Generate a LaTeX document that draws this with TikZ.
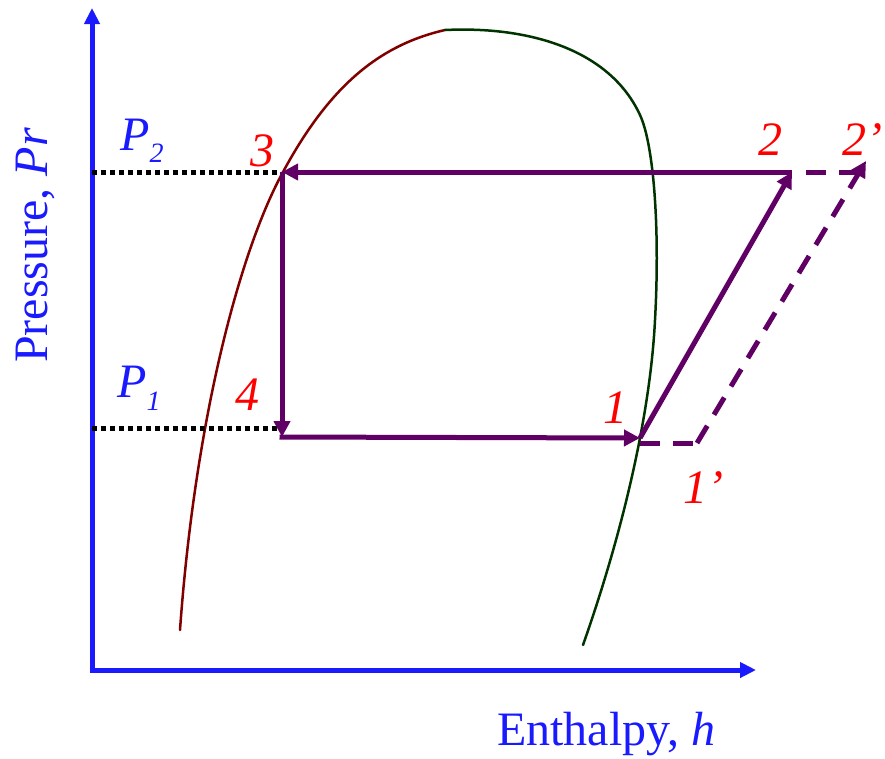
\documentclass[tikz,border=0pt]{standalone}
\usepackage{fontspec}
\setmainfont{Liberation Serif}
\usetikzlibrary{arrows.meta,positioning,calc}
\definecolor{axisblue} {HTML}{1A1AFF}
\definecolor{cycle}    {HTML}{600064}
\definecolor{liquid}   {HTML}{800000}
\definecolor{vapour}   {HTML}{003300}
\definecolor{statered} {HTML}{FF0000}
\newcommand{\bigfont}{\fontsize{48}{54}\selectfont}
\newcommand{\subfont}{\fontsize{28}{30}\selectfont}
\tikzset{
  axisline/.style={axisblue, line width=5pt, -{Triangle[length=16pt,width=15pt]}},
  cycleline/.style={cycle, line width=5pt, -{Triangle[length=16pt,width=16pt]}},
  realline/.style={cycleline, dash pattern=on 20pt off 13pt},
  levelline/.style={black, line width=5pt, dash pattern=on 5pt off 4pt},
  statelabel/.style={anchor=base west, font=\bigfont\itshape, text=statered, inner sep=0pt},
  presslabel/.style={anchor=base west, font=\bigfont\itshape, text=axisblue, inner sep=0pt}
}
\begin{document}
\begin{tikzpicture}[x=1pt,y=-1pt]
  \useasboundingbox (0,0) rectangle (885,758);
  % axes
  \coordinate (origin) at (92,670);
  \coordinate (ytop)   at (92,8);
  \coordinate (xend)   at (756,670);
  \draw[axisline] (origin) -- (ytop);
  \draw[axisline] ($(origin)+(-2.5,0)$) -- (xend);
  \node[anchor=base west, font=\bigfont, text=axisblue, inner sep=0pt] (hlabel) at (497,745)
       {Enthalpy, \textit{h}};
  \node[anchor=base west, rotate=90, font=\bigfont, text=axisblue, inner sep=0pt] (plabel) at (47,363)
       {Pressure, \textit{Pr}};
  % saturation dome
  \draw[liquid, line width=2.5pt, line cap=round]
    (180,630) .. controls (195,420) and (240,250) .. (283,172)
              .. controls (330,85) and (380,45) .. (445,30);
  \draw[vapour, line width=2.5pt, line cap=round]
    (445,30) .. controls (530,26) and (610,50) .. (640,115)
             .. controls (654,145) and (660,230) .. (655,320)
             .. controls (650,420) and (620,540) .. (583,645);
  % state points
  \coordinate (s1)  at (640,438);
  \coordinate (s1p) at (697,443);
  \coordinate (s2)  at (792,172);
  \coordinate (s2p) at (866,161);
  \coordinate (s3)  at (282,172);
  \coordinate (s4)  at (282,437);
  \coordinate (p2end) at (92,172);
  \coordinate (p1end) at (92,428);
  % pressure levels
  \draw[levelline] (p2end) -- ($(s3)+(-4,0)$);
  \draw[levelline] (p1end) -- ($(s4)+(-4,-9)$);
  % actual compression
  \draw[cycle, line width=5pt, dash pattern=on 20pt off 13pt] ($(s1)+(0,5)$) -- (s1p);
  \draw[cycle, line width=5pt, dash pattern=on 20pt off 13pt] ($(s2)+(14,0)$) -- ($(s2p)+(-6,11)$);
  \draw[realline] (s1p) -- (s2p);
  % ideal cycle
  \draw[cycleline] (s2) -- (s3);
  \draw[cycleline] (s3) -- (s4);
  \draw[cycleline] ($(s4)+(-2.5,0)$) -- (s1);
  \draw[cycleline] (s1) -- (s2);
  % labels
  \node[statelabel] (lbl1)  at (603,423) {1};
  \node[statelabel] (lbl1p) at (683,503) {1’};
  \node[statelabel] (lbl2)  at (758,155) {2};
  \node[statelabel] (lbl2p) at (842,155) {2’};
  \node[statelabel] (lbl3)  at (250,166) {3};
  \node[statelabel] (lbl4)  at (235,410) {4};
  \node[presslabel] (lblp2) at (120,150) {P\raisebox{-12pt}{\subfont 2}};
  \node[presslabel] (lblp1) at (117,397) {P\raisebox{-13pt}{\subfont 1}};
\end{tikzpicture}
\end{document}
